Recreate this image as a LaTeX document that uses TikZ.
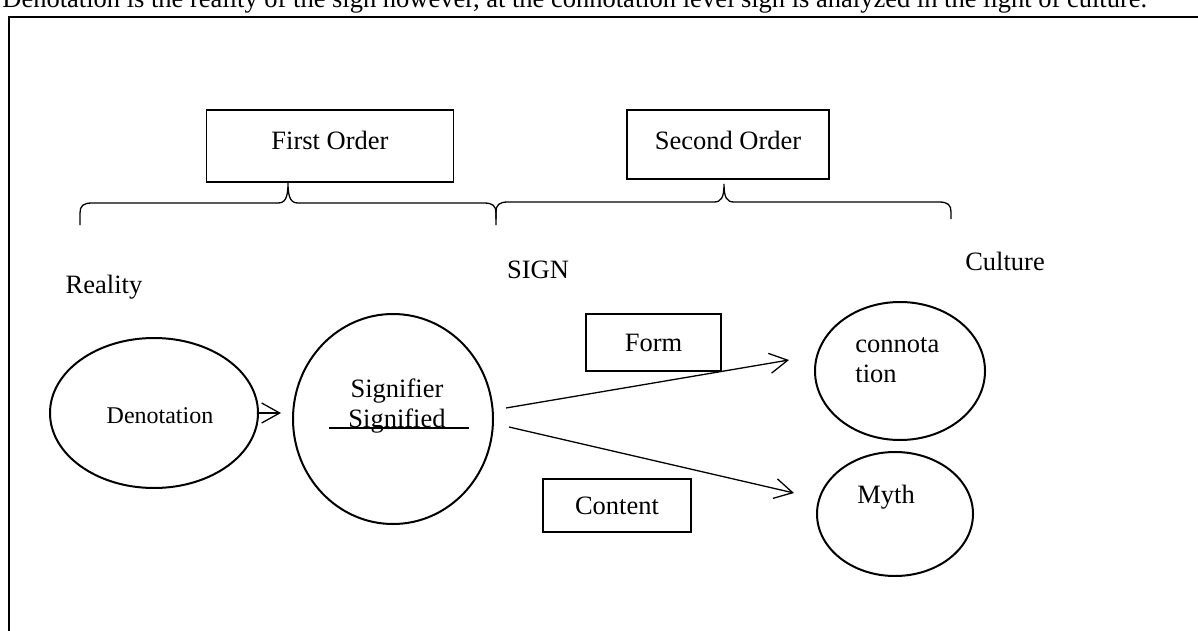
\documentclass[tikz,border=0pt]{standalone}
\usepackage{fontspec}
\setmainfont{Liberation Serif}
\usetikzlibrary{shapes.geometric,arrows.meta}

\tikzset{
  txt/.style={inner sep=0pt, font=\fontsize{13.25}{15}\selectfont},
  obox/.style={txt, draw, line width=0.65pt},
  oval/.style={draw, ellipse, line width=1pt, inner sep=0pt},
  arr/.style={line width=0.65pt, -{Straight Barb[length=9pt,width=10pt]}},
  brc/.style={line width=0.65pt}
}

\begin{document}
\begin{tikzpicture}[x=0.5pt, y=-0.5pt]
\useasboundingbox (0,0) rectangle (1198,631);
\draw[line width=1.2pt] (9,640) -- (9,17) -- (1210,17);
\node[txt, anchor=base west] (H0) at (2,8) {Denotation is the reality of the sign however, at the connotation level sign is analyzed in the light of culture.};

% orders
\node[obox, minimum width=123.5pt, minimum height=36pt, text height=9pt, text depth=6pt] (O1) at (330,146) {First Order};
\node[obox, minimum width=101pt, minimum height=34.5pt, text height=10.5pt, text depth=6pt] (O2) at (728,144.5) {Second Order};
\draw[brc] (80,225) -- (80,213) .. controls (80,206) and (83,203) .. (92,203) -- (278,203)
  .. controls (285,203) and (288,198) .. (288,183) .. controls (288,198) and (291,203) .. (298,203)
  -- (484,203) .. controls (493,203) and (496,206) .. (496,213) -- (496,225);
\draw[brc] (496,219) -- (496,212) .. controls (496,205) and (499,202) .. (508,202) -- (714,202)
  .. controls (721,202) and (724,198) .. (724,184) .. controls (724,198) and (727,202) .. (734,202)
  -- (939,202) .. controls (948,202) and (951,205) .. (951,212) -- (951,219);

\node[txt, anchor=base] (R0) at (104,293) {Reality};
\node[txt, anchor=base] (S0) at (538,278) {SIGN};
\node[txt, anchor=base] (C0) at (1005,270) {Culture};

% ovals
\node[oval, minimum width=104pt, minimum height=75pt] (E1) at (154,413) {};
\node[oval, minimum width=100pt, minimum height=105pt] (E2) at (393,419) {};
\node[oval, minimum width=85pt, minimum height=69pt] (E3) at (900,371) {};
\node[oval, minimum width=78pt, minimum height=62pt] (E4) at (895,514) {};
\node[txt, font=\fontsize{12}{14}\selectfont, anchor=base] (E1t) at (160,423) {Denotation};
\node[txt, align=center] (E2t) at (397,406) {Signifier\\Signified};
\draw[line width=0.75pt] (329,428) -- (469,428);
\node[txt, align=left, anchor=west] (E3t) at (855,360) {connota\\tion};
\node[txt, anchor=base west] (E4t) at (857,503) {Myth};

\node[obox, minimum width=67.5pt, minimum height=28.5pt] (T1) at (653.5,342.5) {Form};
\node[obox, minimum width=74pt, minimum height=26.5pt] (T2) at (617,505.5) {Content};

\path (E1.east) edge[arr] ([xshift=-5.5pt]E2.west |- E1.east)
  ([xshift=6pt,yshift=5.5pt]E2.east) edge[arr] ([xshift=-12.5pt,yshift=5.5pt]E3.west)
  ([xshift=7.5pt,yshift=-4pt]E2.east) edge[arr] ([xshift=-11pt,yshift=10.5pt]E4.west);
\end{tikzpicture}
\end{document}
